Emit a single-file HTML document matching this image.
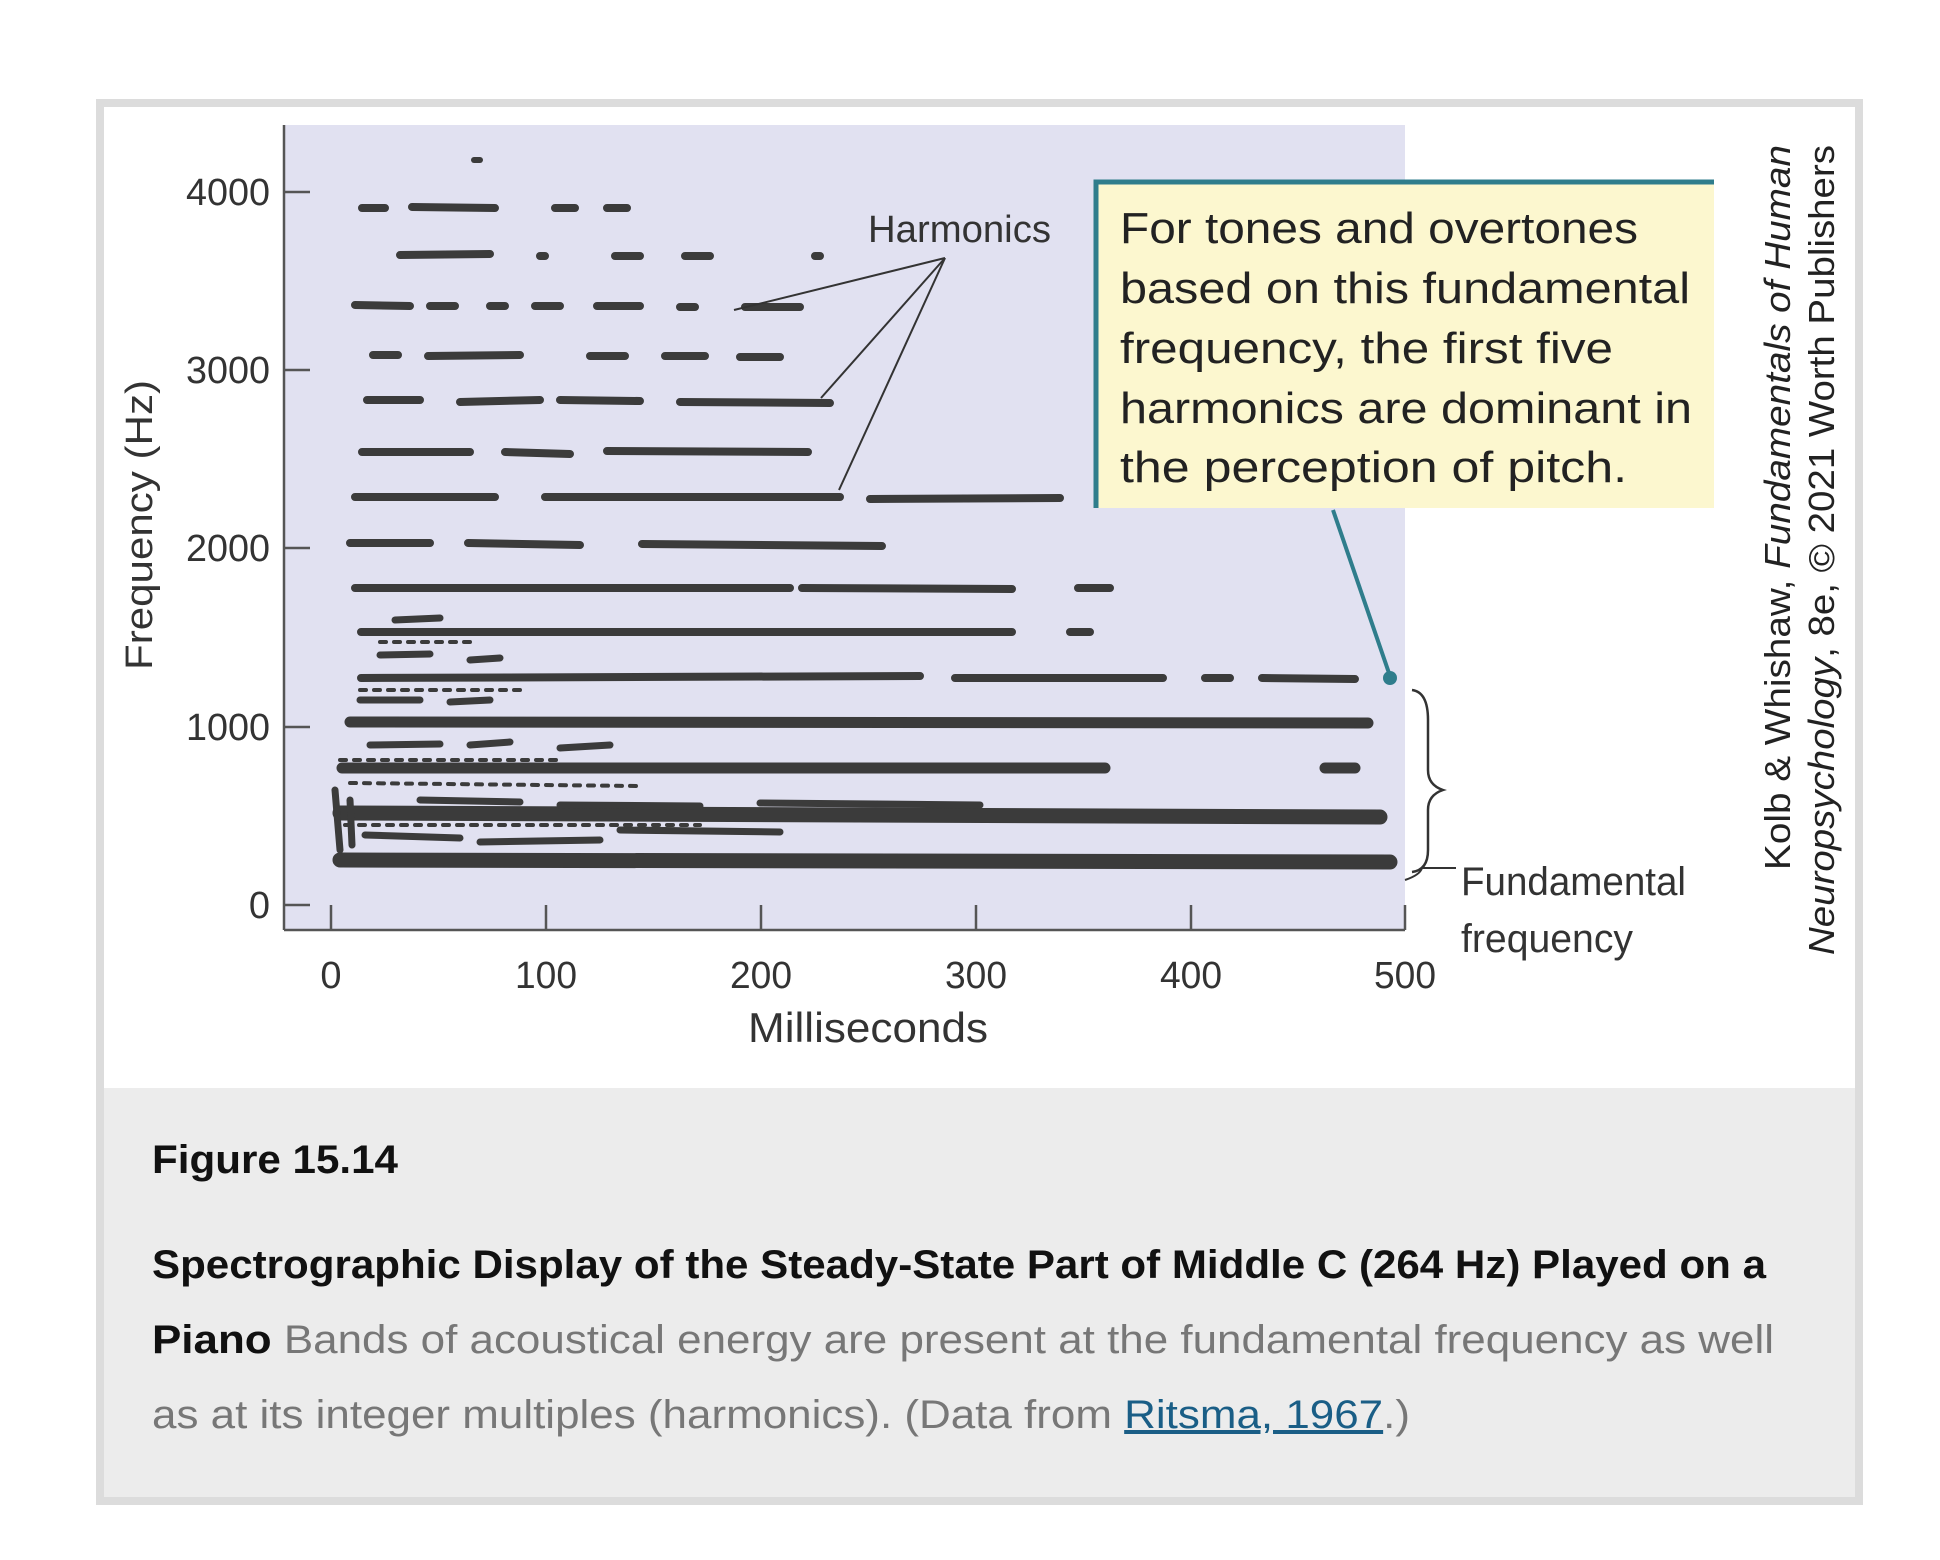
<!DOCTYPE html>
<html><head><meta charset="utf-8"><style>
html,body{margin:0;padding:0;background:#fff;}
svg{display:block;}
text{font-family:"Liberation Sans",sans-serif;}
</style></head><body>
<svg width="1940" height="1560" viewBox="0 0 1940 1560" xmlns="http://www.w3.org/2000/svg">
<rect x="100" y="103" width="1759" height="1398" fill="#fff" stroke="#dcdcdc" stroke-width="8"/>
<rect x="104" y="1088" width="1751" height="409" fill="#ececec"/>
<!-- plot bg -->
<rect x="284" y="125" width="1121" height="805" fill="#e1e1f1"/>
<!-- axes -->
<g stroke="#555" stroke-width="2.5" fill="none">
<line x1="284" y1="125" x2="284" y2="930"/>
<line x1="284" y1="930" x2="1405" y2="930"/>
<line x1="284" y1="192" x2="310" y2="192"/><line x1="284" y1="370" x2="310" y2="370"/><line x1="284" y1="548" x2="310" y2="548"/><line x1="284" y1="727" x2="310" y2="727"/><line x1="284" y1="905" x2="310" y2="905"/>
<line x1="331" y1="905" x2="331" y2="930"/><line x1="546" y1="905" x2="546" y2="930"/><line x1="761" y1="905" x2="761" y2="930"/><line x1="976" y1="905" x2="976" y2="930"/><line x1="1191" y1="905" x2="1191" y2="930"/><line x1="1405" y1="905" x2="1405" y2="930"/>
</g>
<g font-size="38" fill="#333" text-anchor="end">
<text x="270" y="205" textLength="84" lengthAdjust="spacingAndGlyphs">4000</text>
<text x="270" y="383" textLength="84" lengthAdjust="spacingAndGlyphs">3000</text>
<text x="270" y="561" textLength="84" lengthAdjust="spacingAndGlyphs">2000</text>
<text x="270" y="740" textLength="84" lengthAdjust="spacingAndGlyphs">1000</text>
<text x="270" y="918">0</text>
</g>
<g font-size="38" fill="#333" text-anchor="middle">
<text x="331" y="988">0</text>
<text x="546" y="988" textLength="62" lengthAdjust="spacingAndGlyphs">100</text>
<text x="761" y="988" textLength="62" lengthAdjust="spacingAndGlyphs">200</text>
<text x="976" y="988" textLength="62" lengthAdjust="spacingAndGlyphs">300</text>
<text x="1191" y="988" textLength="62" lengthAdjust="spacingAndGlyphs">400</text>
<text x="1405" y="988" textLength="62" lengthAdjust="spacingAndGlyphs">500</text>
<text x="868" y="1042" font-size="42" textLength="240" lengthAdjust="spacingAndGlyphs">Milliseconds</text>
</g>
<text transform="translate(152,525) rotate(-90)" font-size="38" fill="#333" text-anchor="middle" textLength="290" lengthAdjust="spacingAndGlyphs">Frequency (Hz)</text>
<!-- spectrogram bands -->
<g stroke="#3b3b3b" stroke-linecap="round" fill="none">
<g stroke-width="15">
<path d="M340 860 L1390 862"/>
<path d="M340 813 L1380 817"/>
</g>
<g stroke-width="11">
<path d="M342 768 L1105 768 M1325 768 L1355 768"/>
<path d="M350 722 L1368 723"/>
</g>
<g stroke-width="8">
<path d="M361 678 L920 676 M955 678 L1163 678 M1205 678 L1230 678 M1262 678 L1355 679"/>
<path d="M361 632 L1012 632 M1070 632 L1090 632"/>
<path d="M355 588 L790 588 M802 588 L1012 589 M1078 588 L1110 588"/>
<path d="M350 543 L430 543 M468 543 L580 545 M642 544 L882 546"/>
<path d="M355 497 L495 497 M545 497 L840 497 M870 499 L1060 498"/>
<path d="M362 452 L470 452 M505 452 L570 454 M607 451 L808 452"/>
<path d="M367 400 L420 400 M460 402 L540 400 M560 400 L640 401 M680 402 L830 403"/>
<path d="M373 355 L398 355 M428 356 L520 355 M590 356 L625 356 M665 356 L705 356 M740 357 L780 357"/>
<path d="M355 305 L410 306 M430 306 L455 306 M490 306 L505 306 M535 306 L560 306 M597 306 L640 306 M680 307 L695 307 M745 307 L800 307"/>
<path d="M400 255 L490 254 M540 256 L545 256 M615 256 L640 256 M685 256 L710 256 M815 256 L820 256"/>
<path d="M362 208 L385 208 M412 207 L495 208 M555 208 L575 208 M607 208 L627 208"/>
</g>
<!-- noisy region lower-left -->
<g stroke-width="7">
<path d="M335 790 L340 850 M350 800 L352 845 M365 835 L460 838 M480 842 L600 840 M420 800 L520 802 M560 805 L700 806 M620 830 L780 832 M760 803 L980 805 M370 745 L440 744 M470 745 L510 742 M560 748 L610 745 M360 700 L420 700 M450 702 L490 700 M380 655 L430 654 M470 660 L500 658 M395 620 L440 618"/>
</g>
<g stroke-width="4" stroke-dasharray="6 8">
<path d="M345 825 L700 825 M350 783 L640 786 M340 760 L560 760 M360 690 L520 690 M380 642 L470 642"/>
</g>
<line x1="474" y1="160" x2="480" y2="160" stroke-width="6"/>
</g>
<!-- Harmonics label & lines -->
<text x="868" y="242" font-size="38" fill="#333" textLength="183" lengthAdjust="spacingAndGlyphs">Harmonics</text>
<g stroke="#333" stroke-width="2" fill="none">
<line x1="945" y1="258" x2="734" y2="310"/>
<line x1="945" y1="258" x2="821" y2="398"/>
<line x1="945" y1="258" x2="839" y2="490"/>
</g>
<!-- callout -->
<rect x="1094" y="180" width="620" height="328" fill="#fcf7cf"/>
<path d="M1096 508 L1096 182 L1714 182" stroke="#2f7d8c" stroke-width="5" fill="none"/>
<line x1="1333" y1="510" x2="1390" y2="676" stroke="#2f7d8c" stroke-width="4"/>
<circle cx="1390" cy="678" r="7" fill="#2f7d8c"/>
<g font-size="44" fill="#222">
<text x="1120" y="243" textLength="518" lengthAdjust="spacingAndGlyphs">For tones and overtones</text>
<text x="1120" y="303" textLength="570" lengthAdjust="spacingAndGlyphs">based on this fundamental</text>
<text x="1120" y="363" textLength="493" lengthAdjust="spacingAndGlyphs">frequency, the first five</text>
<text x="1120" y="423" textLength="572" lengthAdjust="spacingAndGlyphs">harmonics are dominant in</text>
<text x="1120" y="482" textLength="507" lengthAdjust="spacingAndGlyphs">the perception of pitch.</text>
</g>
<!-- brace & fundamental -->
<path d="M1412 690 Q1428 692 1428 720 L1428 770 Q1428 785 1443 790 Q1428 795 1428 810 L1428 850 Q1428 870 1412 872" stroke="#333" stroke-width="2.5" fill="none"/>
<path d="M1405 880 Q1420 875 1422 868 L1456 868" stroke="#333" stroke-width="2" fill="none"/>
<text x="1461" y="895" font-size="40" fill="#333" textLength="225" lengthAdjust="spacingAndGlyphs">Fundamental</text>
<text x="1461" y="952" font-size="40" fill="#333" textLength="172" lengthAdjust="spacingAndGlyphs">frequency</text>
<!-- credit rotated -->
<g font-size="36" fill="#222">
<text transform="translate(1790,870) rotate(-90)" textLength="725" lengthAdjust="spacingAndGlyphs">Kolb &amp; Whishaw, <tspan font-style="italic">Fundamentals of Human</tspan></text>
<text transform="translate(1834,955) rotate(-90)" textLength="810" lengthAdjust="spacingAndGlyphs"><tspan font-style="italic">Neuropsychology</tspan>, 8e, © 2021 Worth Publishers</text>
</g>
<!-- caption -->
<text x="152" y="1173" font-size="40" font-weight="bold" fill="#111" textLength="246" lengthAdjust="spacingAndGlyphs">Figure 15.14</text>
<text x="152" y="1278" font-size="40" font-weight="bold" fill="#111" textLength="1614" lengthAdjust="spacingAndGlyphs">Spectrographic Display of the Steady-State Part of Middle C (264 Hz) Played on a</text>
<text x="152" y="1353" font-size="40" fill="#777" textLength="1622" lengthAdjust="spacingAndGlyphs"><tspan font-weight="bold" fill="#111">Piano</tspan> Bands of acoustical energy are present at the fundamental frequency as well</text>
<text x="152" y="1428" font-size="40" fill="#777" textLength="1258" lengthAdjust="spacingAndGlyphs">as at its integer multiples (harmonics). (Data from <tspan fill="#1a5e86" text-decoration="underline">Ritsma, 1967</tspan>.)</text>
</svg>
</body></html>
